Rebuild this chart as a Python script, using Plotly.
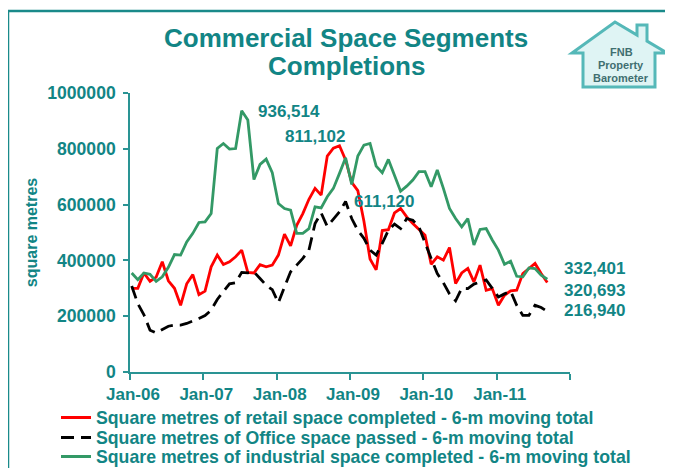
import plotly.graph_objects as go

# ---------------- data (monthly, Jan-2006 .. Sep-2011) ----------------
months = [f"{m}-{y:02d}" for y in range(6, 12) for m in
          ["Jan", "Feb", "Mar", "Apr", "May", "Jun", "Jul", "Aug", "Sep", "Oct", "Nov", "Dec"]][:69]

retail = [300000, 300000, 355000, 325000, 340000, 395000, 327000, 300000, 239000, 316000,
          349000, 277000, 290000, 377000, 419000, 385000, 395000, 413000, 437000, 357000,
          355000, 385000, 377000, 383000, 419000, 494000, 452000, 526000, 568000, 619000,
          658000, 634000, 774000, 802000, 811102, 760000, 680000, 650000, 540000, 405000,
          366000, 507000, 510000, 570000, 586000, 556000, 532000, 511000, 490000, 386000,
          413000, 401000, 446000, 317000, 355000, 371000, 323000, 383000, 293000, 299000,
          239000, 275000, 291000, 293000, 353000, 371000, 389000, 353000, 320693]

office = [308000, 245000, 205000, 150000, 140000, 152000, 164000, 168000, 168000, 174000,
          182000, 192000, 202000, 222000, 260000, 290000, 316000, 320000, 357000, 355000,
          359000, 335000, 311000, 295000, 248000, 305000, 359000, 383000, 407000, 437000,
          532000, 570000, 522000, 548000, 574000, 611120, 550000, 508000, 479000, 437000,
          419000, 461000, 508000, 530000, 514000, 550000, 544000, 520000, 461000, 407000,
          353000, 320000, 280000, 255000, 300000, 299000, 315000, 323000, 330000, 300000,
          269000, 280000, 290000, 239000, 203000, 203000, 239000, 231000, 216940]

industrial = [355000, 331000, 355000, 350000, 325000, 341000, 375000, 421000, 419000, 466000,
              497000, 536000, 538000, 568000, 801000, 819000, 799000, 801000, 936514, 903000,
              690000, 744000, 763000, 714000, 604000, 586000, 580000, 497000, 497000, 514000,
              592000, 588000, 628000, 658000, 712000, 768000, 672000, 774000, 813000, 819000,
              738000, 714000, 762000, 706000, 648000, 666000, 688000, 718000, 718000, 664000,
              724000, 658000, 586000, 550000, 520000, 550000, 455000, 511000, 514000, 473000,
              437000, 386000, 397000, 343000, 341000, 373000, 371000, 347000, 332401]

year_labels = ["Jan-06", "Jan-07", "Jan-08", "Jan-09", "Jan-10", "Jan-11", ""]
y_ticks = [0, 200000, 400000, 600000, 800000, 1000000]

names = ["Square metres of retail space completed - 6-m moving total",
         "Square metres of Office space passed - 6-m moving total",
         "Square metres of industrial space completed - 6-m moving total"]

# ---------------- styling ----------------
TEAL = "#128585"
AXIS = "#2a9494"
FONT = "Liberation Sans, Arial, sans-serif"
W, H = 673, 468
S = 8  # page body margin offset compensation
ML, MT = 130 - S, 93 - S
PW, PH = 440, 279
MR, MB = W - ML - PW, H - MT - PH
OFF = -0.28  # axis starts slightly before first month

def px(xp):
    return (xp - S - ML) / PW

def py(yp):
    return (MT + PH - (yp - S)) / PH

x = list(range(len(months)))

fig = go.Figure()
fig.add_trace(go.Scatter(x=x, y=retail, mode="lines", name=names[0], text=months,
                         line=dict(color="#ff0000", width=2.8), legend="legend"))
fig.add_trace(go.Scatter(x=x, y=office, mode="lines", name=names[1], text=months,
                         line=dict(color="#000000", width=2.8, dash="13px,7px"), legend="legend2"))
fig.add_trace(go.Scatter(x=x, y=industrial, mode="lines", name=names[2], text=months,
                         line=dict(color="#339966", width=2.8), legend="legend3"))

leg_font = dict(family=FONT, size=17.7, color=TEAL, weight="bold")
leg_common = dict(font=leg_font, bgcolor="rgba(0,0,0,0)", borderwidth=0,
                  xanchor="left", yanchor="middle", x=px(56), itemwidth=30)

fig.update_layout(
    width=W, height=H,
    margin=dict(l=ML, r=MR, t=MT, b=MB, autoexpand=False),
    paper_bgcolor="white", plot_bgcolor="white",
    showlegend=True,
    legend=dict(y=py(418), **leg_common),
    legend2=dict(y=py(438), **leg_common),
    legend3=dict(y=py(457), **leg_common),
    xaxis=dict(range=[OFF, OFF + 72], tickmode="array",
               tickvals=[OFF + 12 * k for k in range(7)], ticktext=year_labels,
               showgrid=False, zeroline=False, showline=True, linecolor=AXIS, linewidth=1.5,
               ticks="outside", ticklen=6, tickcolor=AXIS, tickwidth=1.5,
               ticklabelshift=3,
               tickfont=dict(family=FONT, size=17, color=TEAL, weight="bold")),
    yaxis=dict(range=[0, 1000000], tickmode="array", tickvals=y_ticks,
               ticktext=[str(v) for v in y_ticks],
               showgrid=False, zeroline=False, showline=True, linecolor=AXIS, linewidth=1.5,
               ticks="outside", ticklen=5, tickcolor=AXIS, tickwidth=1.5,
               ticklabelstandoff=4,
               tickfont=dict(family=FONT, size=17.6, color=TEAL, weight="bold"),
               title=dict(text="square metres", standoff=6,
                          font=dict(family=FONT, size=16, color=TEAL, weight="bold"))),
)

ann_font = dict(family=FONT, size=17, color=TEAL, weight="bold")
# title (two lines)
fig.add_annotation(text="Commercial Space Segments", xref="paper", yref="paper",
                   x=px(346), y=py(38), showarrow=False, xanchor="center", yanchor="middle",
                   font=dict(family=FONT, size=26, color=TEAL, weight="bold"))
fig.add_annotation(text="Completions", xref="paper", yref="paper",
                   x=px(346), y=py(66), showarrow=False, xanchor="center", yanchor="middle",
                   font=dict(family=FONT, size=26, color=TEAL, weight="bold"))

# value labels
def lab(v, xd, yv):
    fig.add_annotation(text=f"{v:,}", x=xd, y=yv, xref="x", yref="y", showarrow=False,
                       xanchor="left", yanchor="middle", font=ann_font)

lab(max(industrial), 20.3, 935000)
lab(max(retail), 24.7, 843000)
lab(max(office), 36.1, 610000)
lab(industrial[-1], 70.4, 372000)
lab(retail[-1], 70.4, 293000)
lab(office[-1], 70.4, 219000)

# outer frame
fig.add_shape(type="rect", xref="paper", yref="paper",
              x0=px(8), x1=px(720), y0=py(520), y1=py(11),
              line=dict(color="#1a8a8a", width=2.5), fillcolor="rgba(0,0,0,0)", layer="below")

# logo house
pts = [(615, 22), (637, 35.1), (637, 25), (647, 25), (647, 41.1), (667, 53), (655, 53),
       (655, 87), (583, 87), (583, 53), (572, 53)]
path = "M " + " L ".join(f"{px(a):.5f},{py(b):.5f}" for a, b in pts) + " Z"
fig.add_shape(type="path", xref="paper", yref="paper", path=path,
              fillcolor="#dff4f4", line=dict(color="#55b8b8", width=3))
for t, yy in [("FNB", 52), ("Property", 65), ("Barometer", 78)]:
    fig.add_annotation(text=t, xref="paper", yref="paper", x=px(621), y=py(yy),
                       showarrow=False, xanchor="center", yanchor="middle",
                       font=dict(family=FONT, size=11, color="#3f6f70", weight="bold"))

fig.write_html("out.html")
